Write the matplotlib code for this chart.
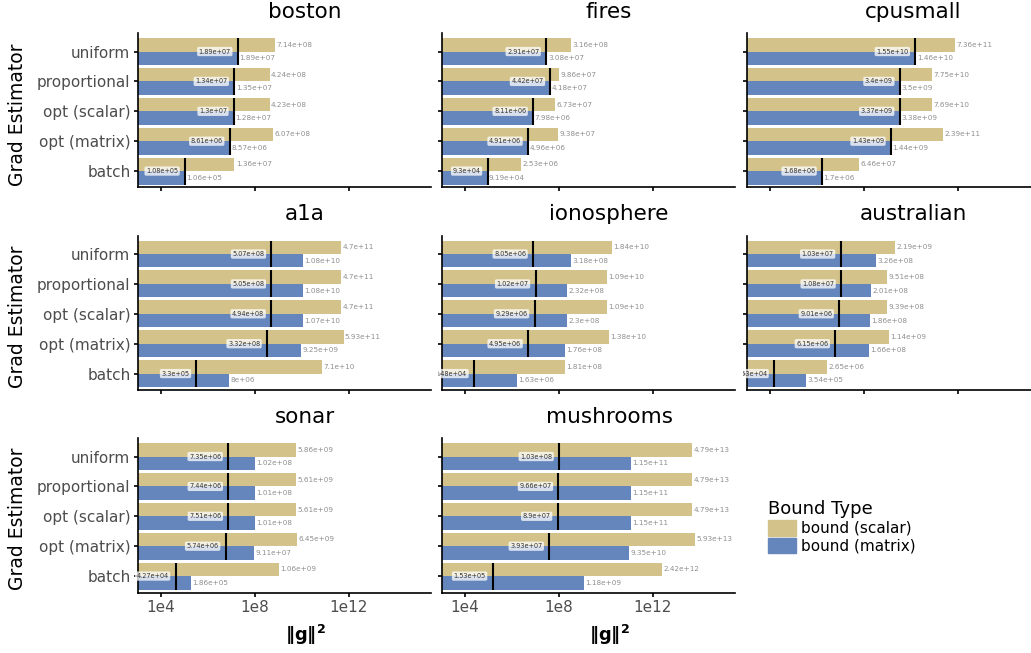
import matplotlib
matplotlib.use("Agg")
import matplotlib.pyplot as plt
import numpy as np
from matplotlib.patches import Patch
from matplotlib.transforms import Bbox, TransformedBbox, IdentityTransform

categories = ["uniform", "proportional", "opt (scalar)", "opt (matrix)", "batch"]
datasets = ["boston", "fires", "cpusmall", "a1a", "ionosphere", "australian", "sonar", "mushrooms"]

boston_scalar = [7.14e8, 4.24e8, 4.23e8, 6.07e8, 1.36e7]
boston_matrix = [1.89e7, 1.35e7, 1.28e7, 8.57e6, 1.06e5]
boston_g = [1.89e7, 1.34e7, 1.3e7, 8.61e6, 1.08e5]

fires_scalar = [3.16e8, 9.86e7, 6.73e7, 9.38e7, 2.53e6]
fires_matrix = [3.08e7, 4.18e7, 7.98e6, 4.96e6, 9.19e4]
fires_g = [2.91e7, 4.42e7, 8.11e6, 4.91e6, 9.3e4]

cpusmall_scalar = [7.36e11, 7.75e10, 7.69e10, 2.39e11, 6.46e7]
cpusmall_matrix = [1.46e10, 3.5e9, 3.38e9, 1.44e9, 1.7e6]
cpusmall_g = [1.55e10, 3.4e9, 3.37e9, 1.43e9, 1.68e6]

a1a_scalar = [4.7e11, 4.7e11, 4.7e11, 5.93e11, 7.1e10]
a1a_matrix = [1.08e10, 1.08e10, 1.07e10, 9.25e9, 8e6]
a1a_g = [5.07e8, 5.05e8, 4.94e8, 3.32e8, 3.3e5]

ionosphere_scalar = [1.84e10, 1.09e10, 1.09e10, 1.38e10, 1.81e8]
ionosphere_matrix = [3.18e8, 2.32e8, 2.3e8, 1.76e8, 1.63e6]
ionosphere_g = [8.05e6, 1.02e7, 9.29e6, 4.95e6, 2.48e4]

australian_scalar = [2.19e9, 9.51e8, 9.39e8, 1.14e9, 2.65e6]
australian_matrix = [3.26e8, 2.01e8, 1.86e8, 1.66e8, 3.54e5]
australian_g = [1.03e7, 1.08e7, 9.01e6, 6.15e6, 1.53e4]

sonar_scalar = [5.86e9, 5.61e9, 5.61e9, 6.45e9, 1.06e9]
sonar_matrix = [1.02e8, 1.01e8, 1.01e8, 9.11e7, 1.86e5]
sonar_g = [7.35e6, 7.44e6, 7.51e6, 5.74e6, 4.27e4]

mushrooms_scalar = [4.79e13, 4.79e13, 4.79e13, 5.93e13, 2.42e12]
mushrooms_matrix = [1.15e11, 1.15e11, 1.15e11, 9.35e10, 1.18e9]
mushrooms_g = [1.03e8, 9.66e7, 8.9e7, 3.93e7, 1.53e5]

xticks = [1e4, 1e8, 1e12]
xticklabels = ["1e4", "1e8", "1e12"]

data = {
    "boston": (boston_scalar, boston_matrix, boston_g),
    "fires": (fires_scalar, fires_matrix, fires_g),
    "cpusmall": (cpusmall_scalar, cpusmall_matrix, cpusmall_g),
    "a1a": (a1a_scalar, a1a_matrix, a1a_g),
    "ionosphere": (ionosphere_scalar, ionosphere_matrix, ionosphere_g),
    "australian": (australian_scalar, australian_matrix, australian_g),
    "sonar": (sonar_scalar, sonar_matrix, sonar_g),
    "mushrooms": (mushrooms_scalar, mushrooms_matrix, mushrooms_g),
}

TAN = "#D3C38A"
BLUE = "#6586BC"
TXT = "#4d4d4d"

W, H = 1031, 653
fig = plt.figure(figsize=(W / 100, H / 100), dpi=100)

col_left = [137.7, 441.7, 746.7]
row_top = [33, 235.5, 438]
pw, ph = 293.5, 154.5
title_x = [305, 609, 913]

XMIN, XMAX = 10 ** 3.02, 10 ** 15.5
BASE = 1e-3
bh = 0.45

for i, name in enumerate(datasets):
    r, c = divmod(i, 3)
    l, t = col_left[c], row_top[r]
    ax = fig.add_axes([l / W, 1 - (t + ph) / H, pw / W, ph / H])
    clipbox = TransformedBbox(Bbox.from_extents(l - 4, H - (t + ph), l + pw, H - t), IdentityTransform())
    sc, mx, g = data[name]
    y = np.arange(len(categories))[::-1].astype(float)
    sc = np.array(sc); mx = np.array(mx); g = np.array(g)
    ax.barh(y + bh / 2, sc - BASE, left=BASE, height=bh, color=TAN, zorder=2)
    ax.barh(y - bh / 2, mx - BASE, left=BASE, height=bh, color=BLUE, zorder=2)
    ax.set_xscale("log")
    ax.set_xlim(XMIN, XMAX)
    ax.set_ylim(-0.55, 4.62)
    for yy, s, m, gg in zip(y, sc, mx, g):
        ax.vlines(gg, yy - bh, yy + bh, color="black", lw=1.5, zorder=4)
        ax.annotate(f"{s:.3g}", (s, yy + bh / 2), xytext=(1, 0), textcoords="offset points",
                    ha="left", va="center", fontsize=5.2, color="#8f8f8f", zorder=5)
        ax.annotate(f"{m:.3g}", (max(m, gg), yy - bh / 2), xytext=(1, 0), textcoords="offset points",
                    ha="left", va="center", fontsize=5.2, color="#8f8f8f", zorder=5)
        ann = ax.annotate(f"{gg:.3g}", (gg, yy), xytext=(-5, 0), textcoords="offset points",
                          ha="right", va="center", fontsize=4.7, color="#333333", zorder=6,
                          annotation_clip=False,
                          bbox=dict(boxstyle="round,pad=0.25", fc="white", ec="none", alpha=0.75))
        ann.set_clip_on(True)
        ann.set_clip_box(clipbox)
        ann.get_bbox_patch().set_clip_on(True)
        ann.get_bbox_patch().set_clip_box(clipbox)
    for s in ["top", "right"]:
        ax.spines[s].set_visible(False)
    for s in ["left", "bottom"]:
        ax.spines[s].set_linewidth(1.2)
    ax.tick_params(axis="both", direction="out", length=3.2, width=1.2, colors="black",
                   labelcolor=TXT, labelsize=11, pad=2)
    ax.set_yticks(y)
    ax.set_xticks(xticks)
    ax.minorticks_off()
    if c == 0:
        ax.set_yticklabels(categories)
    else:
        ax.set_yticklabels([])
    if r == 2:
        ax.set_xticklabels(xticklabels)
    else:
        ax.set_xticklabels([])
    fig.text(title_x[c] / W, 1 - (t - 21) / H, name, ha="center", va="center", fontsize=15.5, color="black")

for r in range(3):
    yc = row_top[r] + ph / 2 + 4
    fig.text(18 / W, 1 - yc / H, "Grad Estimator", rotation=90, ha="center", va="center",
             fontsize=13.5, color="black")

for c in range(2):
    fig.text(title_x[c] / W, 1 - 635 / H, r"$\mathbf{\|g\|^2}$", ha="center", va="center",
             fontsize=13, color="black")

handles = [Patch(color=TAN, label="bound (scalar)"), Patch(color=BLUE, label="bound (matrix)")]
leg = fig.legend(handles=handles, title="Bound Type", loc="upper left",
                 bbox_to_anchor=(762 / W, 1 - 494 / H), frameon=False, fontsize=11,
                 title_fontsize=13, handlelength=1.85, handleheight=1.2, handletextpad=0.3,
                 labelspacing=0.12, alignment="left", borderaxespad=0)

fig.savefig("out.png", dpi=100)
